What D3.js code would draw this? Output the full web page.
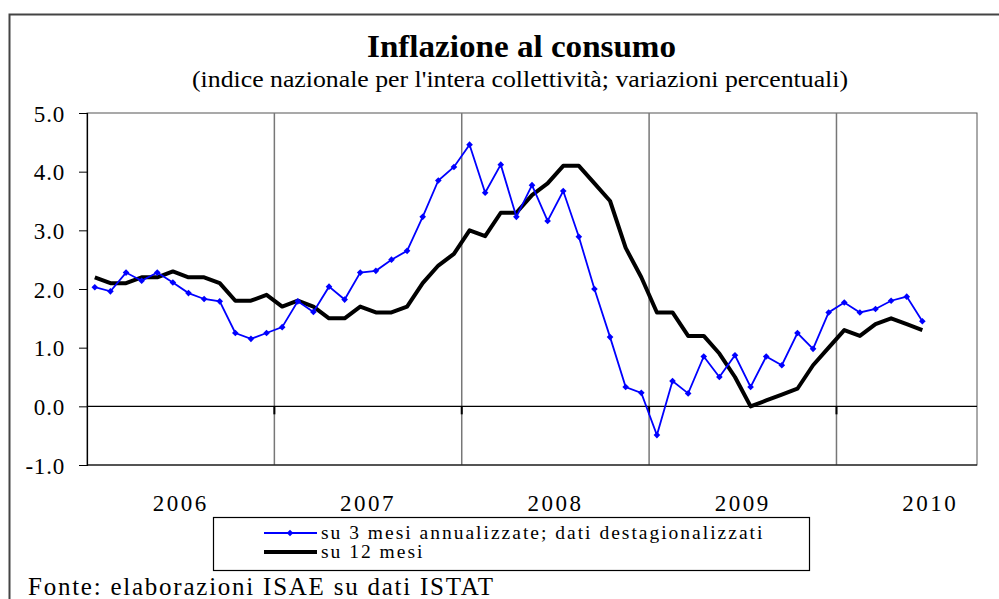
<!DOCTYPE html>
<html>
<head>
<meta charset="utf-8">
<script src="https://cdn.jsdelivr.net/npm/d3@7"></script>
<style>
  body { margin: 0; background: #fff; }
  svg text { font-family: "Liberation Serif", "Times New Roman", serif; fill: #000; }
</style>
</head>
<body>
<svg id="chart" width="999" height="599" viewBox="0 0 999 599"></svg>
<script>
// years shown on the category axis (2010 only partly)
const years = ["2006", "2007", "2008", "2009", "2010"]
const monthsOnAxis = 57   // gen 2006 .. set 2010

// su 3 mesi annualizzate; dati destagionalizzati (gen 2006 - giu 2010)
const su3mesi = [
  2.03, 1.96, 2.28, 2.14, 2.28, 2.11, 1.93, 1.83, 1.79, 1.25, 1.15, 1.25,
  1.35, 1.79, 1.61, 2.04, 1.82, 2.28, 2.31, 2.50, 2.65, 3.23, 3.85, 4.08,
  4.46, 3.64, 4.12, 3.23, 3.77, 3.16, 3.67, 2.89, 2.00, 1.18, 0.33, 0.23,
  -0.49, 0.43, 0.22, 0.85, 0.50, 0.87, 0.33, 0.85, 0.70, 1.25, 0.98, 1.60,
  1.77, 1.60, 1.66, 1.80, 1.87, 1.45
]
// su 12 mesi
const su12mesi = [
  2.2, 2.1, 2.1, 2.2, 2.2, 2.3, 2.2, 2.2, 2.1, 1.8, 1.8, 1.9,
  1.7, 1.8, 1.7, 1.5, 1.5, 1.7, 1.6, 1.6, 1.7, 2.1, 2.4, 2.6,
  3.0, 2.9, 3.3, 3.3, 3.6, 3.8, 4.1, 4.1, 3.8, 3.5, 2.7, 2.2,
  1.6, 1.6, 1.2, 1.2, 0.9, 0.5, 0.0, 0.1, 0.2, 0.3, 0.7, 1.0,
  1.3, 1.2, 1.4, 1.5, 1.4, 1.3
]
const yTicks = [5, 4, 3, 2, 1, 0, -1]
const legendLabels = ["su 3 mesi annualizzate; dati destagionalizzati", "su 12 mesi"]

const svg = d3.select("#chart")

// outer frame
svg.append("path")
    .attr("d", "M9.5,600 V14.5 H1000")
    .attr("fill", "none")
    .attr("stroke", "#444")
    .attr("stroke-width", 2)

svg.append("text")
    .attr("x", 367).attr("y", 57)
    .attr("font-size", 31).attr("font-weight", "bold")
    .attr("textLength", 309).attr("lengthAdjust", "spacingAndGlyphs")
    .text("Inflazione al consumo")
svg.append("text")
    .attr("x", 192).attr("y", 87)
    .attr("font-size", 23)
    .attr("textLength", 656).attr("lengthAdjust", "spacingAndGlyphs")
    .text("(indice nazionale per l'intera collettività; variazioni percentuali)")

const pLeft = 87, pRight = 977, pTop = 113, pBottom = 465

const x = d3.scaleLinear().domain([0, monthsOnAxis]).range([pLeft, pRight])
const y = d3.scaleLinear().domain([-1, 5]).range([pBottom, pTop])

const plot = svg.append("g")

// plot border
plot.append("rect")
    .attr("x", pLeft).attr("y", pTop)
    .attr("width", pRight - pLeft).attr("height", pBottom - pTop)
    .attr("fill", "none")
    .attr("stroke", "#555").attr("stroke-width", 1)

// year separators
plot.selectAll(".sep")
    .data([12, 24, 36, 48])
    .enter()
    .append("line")
    .attr("x1", d => x(d)).attr("x2", d => x(d))
    .attr("y1", pTop).attr("y2", pBottom)
    .attr("stroke", "#777").attr("stroke-width", 1.5)

// y axis
const yAxis = d3.axisLeft(y)
    .tickValues(yTicks)
    .tickFormat(d => d.toFixed(1))
    .tickSize(8)
    .tickPadding(14)
const yg = svg.append("g")
    .attr("transform", `translate(${pLeft},0)`)
    .call(yAxis)
yg.select(".domain").attr("stroke", "#000").attr("stroke-width", 1.2)
yg.selectAll("line").attr("stroke", "#000")
yg.selectAll("text")
    .attr("font-size", 23)
    .attr("font-family", "Liberation Serif")
    .attr("letter-spacing", 0.8)
    .attr("dy", "0.35em")

// zero line with year ticks
plot.append("line")
    .attr("x1", pLeft).attr("x2", pRight)
    .attr("y1", y(0)).attr("y2", y(0))
    .attr("stroke", "#000").attr("stroke-width", 1.2)
plot.selectAll(".ztick")
    .data([12, 24, 36, 48])
    .enter()
    .append("line")
    .attr("x1", d => x(d)).attr("x2", d => x(d))
    .attr("y1", y(0)).attr("y2", y(0) + 8)
    .attr("stroke", "#000").attr("stroke-width", 2)

// bottom axis line
plot.append("line")
    .attr("x1", pLeft).attr("x2", pRight)
    .attr("y1", pBottom).attr("y2", pBottom)
    .attr("stroke", "#000").attr("stroke-width", 1.2)

// year labels
svg.selectAll(".year")
    .data(years)
    .enter()
    .append("text")
    .attr("x", (d, i) => x(i * 12 + 6))
    .attr("y", 511)
    .attr("text-anchor", "middle")
    .attr("font-size", 23)
    .attr("letter-spacing", 2.5)
    .text(d => d)

const line = d3.line()
    .x((d, i) => x(i + 0.5))
    .y(d => y(d))

plot.append("path")
    .datum(su12mesi)
    .attr("d", line)
    .attr("fill", "none")
    .attr("stroke", "#000")
    .attr("stroke-width", 4)
    .attr("stroke-linejoin", "round")

plot.append("path")
    .datum(su3mesi)
    .attr("d", line)
    .attr("fill", "none")
    .attr("stroke", "#0000ff")
    .attr("stroke-width", 1.8)

const marker = d3.symbol(d3.symbolSquare, 22)
plot.selectAll(".mk")
    .data(su3mesi)
    .enter()
    .append("path")
    .attr("d", marker)
    .attr("transform", (d, i) => `translate(${x(i + 0.5)},${y(d)}) rotate(45)`)
    .attr("fill", "#0000ff")

// legend
const lg = svg.append("g")
lg.append("rect")
    .attr("x", 213.5).attr("y", 517.5)
    .attr("width", 596).attr("height", 53)
    .attr("fill", "#fff")
    .attr("stroke", "#000").attr("stroke-width", 1.2)
lg.append("line")
    .attr("x1", 264).attr("x2", 317).attr("y1", 533).attr("y2", 533)
    .attr("stroke", "#0000ff").attr("stroke-width", 1.8)
lg.append("path")
    .attr("d", marker)
    .attr("transform", "translate(290,533) rotate(45)")
    .attr("fill", "#0000ff")
lg.append("line")
    .attr("x1", 264).attr("x2", 317).attr("y1", 552).attr("y2", 552)
    .attr("stroke", "#000").attr("stroke-width", 4)
lg.selectAll(".lt")
    .data(legendLabels)
    .enter()
    .append("text")
    .attr("x", 321)
    .attr("y", (d, i) => 539 + i * 19)
    .attr("font-size", 19.5)
    .attr("letter-spacing", 2)
    .text(d => d)

svg.append("text")
    .attr("x", 28).attr("y", 595)
    .attr("font-size", 25)
    .attr("textLength", 465).attr("lengthAdjust", "spacing")
    .text("Fonte: elaborazioni ISAE su dati ISTAT")
</script>
</body>
</html>
